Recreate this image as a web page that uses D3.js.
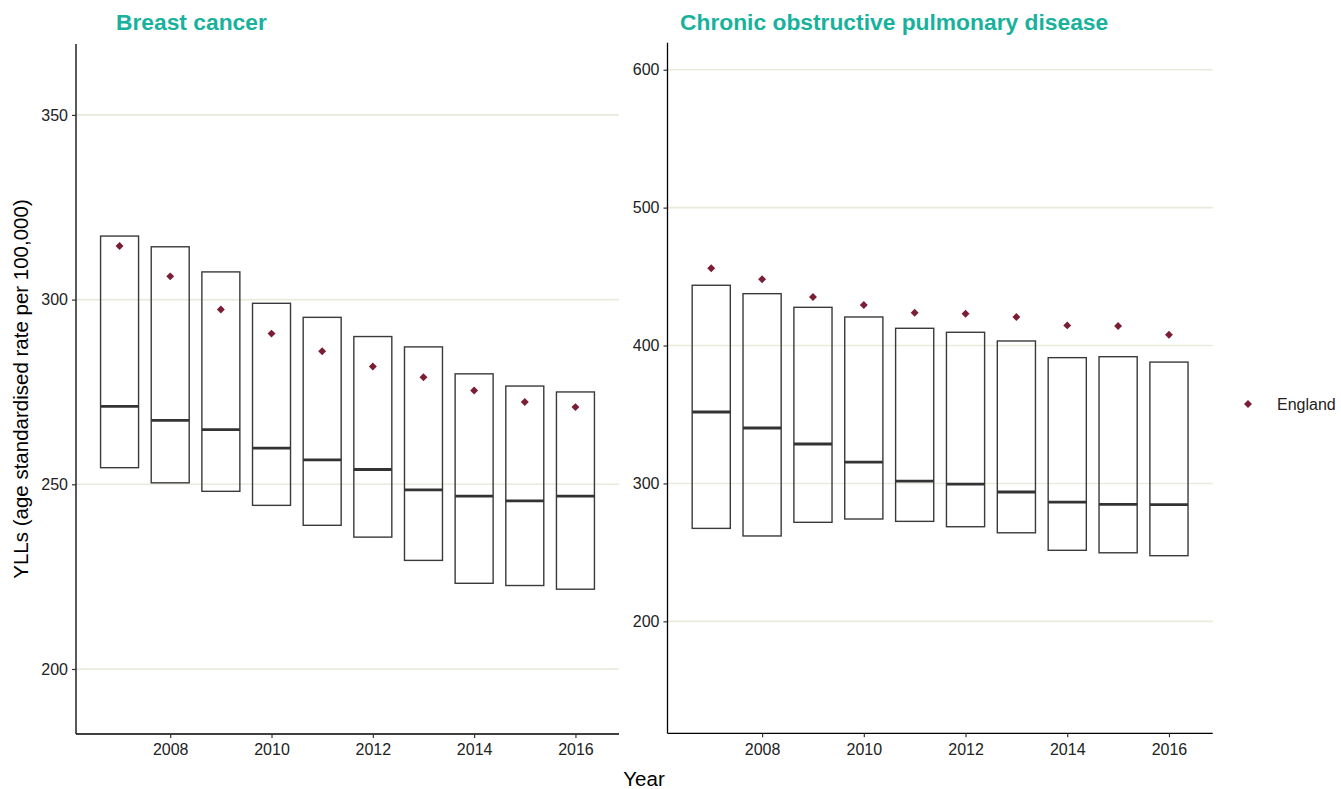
<!DOCTYPE html>
<html>
<head>
<meta charset="utf-8">
<script src="https://cdn.jsdelivr.net/npm/d3@7"></script>
<style>
  html, body { margin: 0; padding: 0; background: #fff; }
  svg { display: block; font-family: "Liberation Sans", Arial, sans-serif; }
</style>
</head>
<body>
<svg id="chart" width="1341" height="789"></svg>
<script>
// Years of life lost, age standardised rate per 100,000
const years = [2007, 2008, 2009, 2010, 2011, 2012, 2013, 2014, 2015, 2016];
const yearTicks = [2008, 2010, 2012, 2014, 2016];

// Breast cancer: spread across areas (low / median / high) and England value
const breastLow    = [254.5, 250.4, 248.1, 244.3, 238.9, 235.7, 229.4, 223.2, 222.6, 221.6];
const breastMedian = [271.1, 267.3, 264.8, 259.8, 256.6, 254.0, 248.5, 246.8, 245.5, 246.8];
const breastHigh   = [317.2, 314.3, 307.5, 299.0, 295.2, 290.0, 287.2, 279.9, 276.6, 275.0];
const breastEngland = [314.5, 306.3, 297.3, 290.8, 286.0, 281.9, 279.0, 275.4, 272.3, 270.9];
const breastTicks = [200, 250, 300, 350];

// Chronic obstructive pulmonary disease
const copdLow    = [267.4, 261.9, 271.8, 274.2, 272.5, 268.6, 264.2, 251.5, 249.7, 247.6];
const copdMedian = [351.8, 340.2, 328.6, 315.5, 301.7, 299.5, 293.8, 286.5, 284.8, 284.6];
const copdHigh   = [443.7, 437.6, 427.7, 420.7, 412.5, 409.6, 403.3, 391.2, 391.9, 388.0];
const copdEngland = [456.0, 448.0, 435.2, 429.4, 423.8, 423.1, 420.7, 414.6, 414.1, 407.8];
const copdTicks = [200, 300, 400, 500, 600];

const panels = [
  { title: "Breast cancer", low: breastLow, median: breastMedian, high: breastHigh,
    england: breastEngland, ticks: breastTicks, yDomain: [182.4, 369.2],
    x0: 76, x1: 619, y0: 734, y1: 44, titleX: 116 },
  { title: "Chronic obstructive pulmonary disease", low: copdLow, median: copdMedian, high: copdHigh,
    england: copdEngland, ticks: copdTicks, yDomain: [118.8, 619.6],
    x0: 667.5, x1: 1212.7, y0: 733.3, y1: 42.7, titleX: 680 }
];

const svg = d3.select("#chart");
const boxWidth = 0.75;
const pointColor = "#7c1d36";
const titleColor = "#18b29c";
const diamond = d3.symbol().type(d3.symbolDiamond2 || d3.symbolDiamond).size(40);

panels.forEach(p => {
  const x = d3.scaleLinear().domain([2006.14, 2016.86]).range([p.x0, p.x1]);
  const y = d3.scaleLinear().domain(p.yDomain).range([p.y0, p.y1]);
  const g = svg.append("g");

  // horizontal grid
  g.selectAll("line.grid").data(p.ticks).join("line")
    .attr("class", "grid")
    .attr("x1", p.x0).attr("x2", p.x1)
    .attr("y1", d => y(d)).attr("y2", d => y(d))
    .attr("stroke", "#e9eadb").attr("stroke-width", 1.6);

  const rows = years.map((yr, i) => ({ yr, lo: p.low[i], med: p.median[i], hi: p.high[i], eng: p.england[i] }));
  const halfW = (x(2007 + boxWidth / 2) - x(2007 - boxWidth / 2)) / 2;

  // crossbars
  g.selectAll("rect.box").data(rows).join("rect")
    .attr("class", "box")
    .attr("x", d => x(d.yr) - halfW)
    .attr("width", halfW * 2)
    .attr("y", d => y(d.hi))
    .attr("height", d => y(d.lo) - y(d.hi))
    .attr("fill", "none").attr("stroke", "#3a3a3a").attr("stroke-width", 1.4);

  g.selectAll("line.med").data(rows).join("line")
    .attr("class", "med")
    .attr("x1", d => x(d.yr) - halfW).attr("x2", d => x(d.yr) + halfW)
    .attr("y1", d => y(d.med)).attr("y2", d => y(d.med))
    .attr("stroke", "#333").attr("stroke-width", 2.8);

  // England points
  g.selectAll("path.eng").data(rows).join("path")
    .attr("class", "eng")
    .attr("d", diamond)
    .attr("transform", d => `translate(${x(d.yr)},${y(d.eng)})`)
    .attr("fill", pointColor);

  // axes
  const yAxis = g.append("g").attr("transform", `translate(${p.x0},0)`)
    .call(d3.axisLeft(y).tickValues(p.ticks).tickSize(4).tickPadding(4).tickSizeOuter(0));
  const xAxis = g.append("g").attr("transform", `translate(0,${p.y0})`)
    .call(d3.axisBottom(x).tickValues(yearTicks).tickFormat(d3.format("d")).tickSize(4).tickPadding(6).tickSizeOuter(0));
  [yAxis, xAxis].forEach(a => {
    a.select(".domain").attr("stroke", "#000").attr("stroke-width", 1.3);
    a.selectAll(".tick line").attr("stroke", "#333").attr("stroke-width", 1.2);
    a.selectAll(".tick text").attr("fill", "#222").style("font-size", "16px")
      .style("font-family", "'Liberation Sans', Arial, sans-serif");
  });
  yAxis.select(".domain").attr("d", `M0,${p.y0}V${p.y1}`);
  xAxis.select(".domain").attr("d", `M${p.x0},0H${p.x1}`);

  g.append("text")
    .attr("x", p.titleX).attr("y", 30)
    .attr("fill", titleColor)
    .style("font-size", "22.8px").style("font-weight", "bold")
    .text(p.title);
});

// axis titles
svg.append("text")
  .attr("transform", "translate(28,389) rotate(-90)")
  .attr("text-anchor", "middle")
  .attr("fill", "#000")
  .style("font-size", "20.5px")
  .text("YLLs (age standardised rate per 100,000)");

svg.append("text")
  .attr("x", 644).attr("y", 786)
  .attr("text-anchor", "middle")
  .attr("fill", "#000")
  .style("font-size", "20.5px")
  .text("Year");

// legend
const legend = svg.append("g").attr("transform", "translate(1248,404)");
legend.append("path").attr("d", diamond).attr("fill", pointColor);
legend.append("text").attr("x", 29).attr("y", 6)
  .attr("fill", "#222").style("font-size", "16px").text("England");
</script>
</body>
</html>
